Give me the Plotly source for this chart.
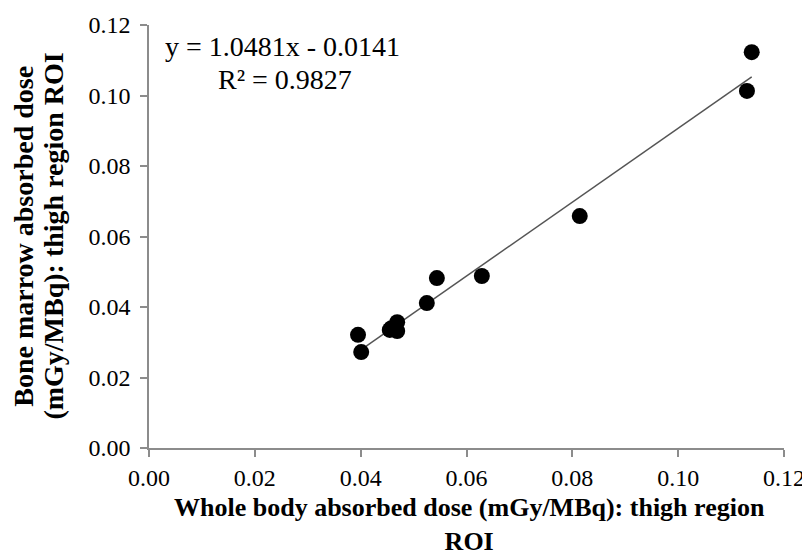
import plotly.graph_objects as go

x_vals = [0.0395, 0.0401, 0.0455, 0.0458, 0.0469, 0.0469, 0.0525, 0.0544, 0.0629, 0.0814, 0.1130, 0.1139]
y_vals = [0.0321, 0.0272, 0.0335, 0.0340, 0.0332, 0.0357, 0.0411, 0.0482, 0.0488, 0.0658, 0.1013, 0.1123]
slope = 1.0481
intercept = -0.0141
r2 = 0.9827
tick_vals = [0.0, 0.02, 0.04, 0.06, 0.08, 0.10, 0.12]
tick_text = ["0.00", "0.02", "0.04", "0.06", "0.08", "0.10", "0.12"]

x_fit = [min(x_vals), max(x_vals)]
y_fit = [slope * v + intercept for v in x_fit]

font_family = "Liberation Serif, Times New Roman, serif"

fig = go.Figure()
fig.add_trace(go.Scatter(x=x_fit, y=y_fit, mode="lines",
                         line=dict(color="#555555", width=1.5), showlegend=False))
fig.add_trace(go.Scatter(x=x_vals, y=y_vals, mode="markers",
                         marker=dict(color="black", size=16), showlegend=False))

ann_font = dict(family=font_family, size=28, color="black")
fig.add_annotation(x=0.211, y=0.948, xref="paper", yref="paper", showarrow=False,
                   text=f"y = {slope:.4f}x - {abs(intercept):.4f}", font=ann_font,
                   xanchor="center", yanchor="middle")
fig.add_annotation(x=0.214, y=0.870, xref="paper", yref="paper", showarrow=False,
                   text=f"R² = {r2:.4f}", font=ann_font, xanchor="center", yanchor="middle")

title_font = dict(family=font_family, size=28, color="black")
xtitle_font = dict(family=font_family, size=26, color="black")
fig.add_annotation(x=-0.198, y=0.5, xref="paper", yref="paper", showarrow=False,
                   text="<b>Bone marrow absorbed dose</b>", textangle=-90, font=title_font,
                   xanchor="center", yanchor="middle")
fig.add_annotation(x=-0.151, y=0.5, xref="paper", yref="paper", showarrow=False,
                   text="<b>(mGy/MBq): thigh region ROI</b>", textangle=-90, font=title_font,
                   xanchor="center", yanchor="middle")
fig.add_annotation(x=0.5055, y=-0.181, xref="paper", yref="paper", showarrow=False,
                   text="<b>Whole body absorbed dose (mGy/MBq): thigh region<br>ROI</b>",
                   font=xtitle_font, xanchor="center", yanchor="middle", align="center")

axis_common = dict(range=[0, 0.12], tickvals=tick_vals, ticktext=tick_text,
                   showline=True, linecolor="#8c8c8c", linewidth=1.5,
                   ticks="outside", ticklen=7, tickcolor="#8c8c8c", tickwidth=1.5,
                   showgrid=False, zeroline=False, automargin=False,
                   tickfont=dict(family=font_family, size=24, color="black"))

fig.update_xaxes(**axis_common)
fig.update_yaxes(**axis_common, ticklabelstandoff=5)

fig.update_layout(width=810, height=558, margin=dict(l=141, r=34, t=17, b=118),
                  plot_bgcolor="white", paper_bgcolor="white")

fig.write_html("out.html")
